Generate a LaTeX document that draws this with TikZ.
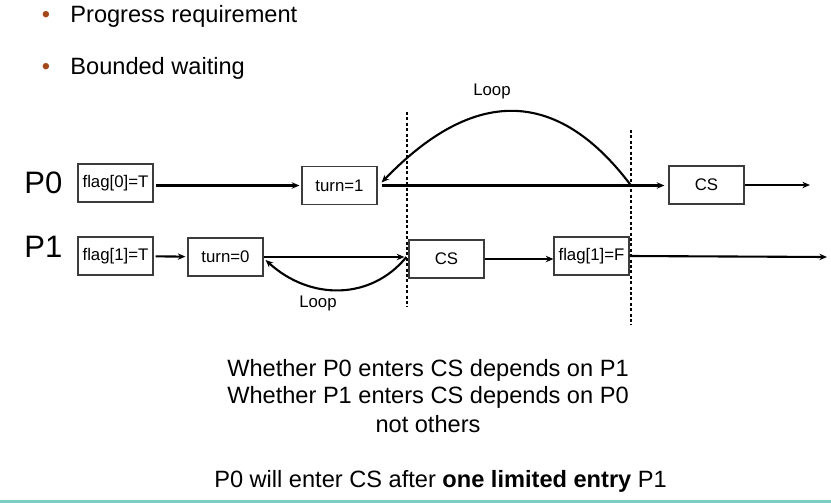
\documentclass[tikz,border=0pt]{standalone}
\usepackage{fontspec}
\setmainfont{Liberation Sans}
\usetikzlibrary{arrows.meta}
\definecolor{bulletbrown}{RGB}{165,72,25}
\definecolor{slideteal}{RGB}{125,204,194}
\definecolor{boxgray}{RGB}{60,60,60}
\tikzset{
  blk/.style={draw=boxgray, line width=0.6pt, minimum width=37.5pt, minimum height=19pt, inner sep=0pt, font=\fontsize{8.4}{10}\selectfont},
  arr/.style={line width=1.05pt, -{Stealth[length=3.8pt,width=3.2pt]}},
  bar/.style={line width=0.8pt, dash pattern=on 1.5pt off 1.2pt},
  big/.style={inner sep=0pt, font=\fontsize{11.8}{14}\selectfont},
  proc/.style={inner sep=0pt, anchor=base west, font=\fontsize{15.5}{18}\selectfont},
  lbl/.style={inner sep=0pt, font=\fontsize{8.4}{10}\selectfont},
}
\begin{document}
\begin{tikzpicture}[x=0.5pt,y=-0.5pt]
    \useasboundingbox (0,0) rectangle (831,503);
    % bullets
    \node[big, anchor=base, text=bulletbrown] (b1) at (46,23) {•};
    \node[big, anchor=base west] (prog) at (70,23) {Progress requirement};
    \node[big, anchor=base, text=bulletbrown] (b2) at (46,75) {•};
    \node[big, anchor=base west] (bwait) at (70,75) {Bounded waiting};
    % processes
    \node[proc] (p0) at (24,193) {P0};
    \node[proc] (p1) at (24,257) {P1};
    \node[blk] (f0) at (115.5,183) {flag[0]=T};
    \node[blk] (t1) at (339.5,185.5) {turn=1};
    \node[blk] (cs0) at (706.5,185) {CS};
    \node[blk] (f1) at (115.5,256) {flag[1]=T};
    \node[blk] (t0) at (225.5,257) {turn=0};
    \node[blk] (cs1) at (446.5,259) {CS};
    \node[blk] (f1f) at (591.5,256) {flag[1]=F};
    % dotted bars
    \coordinate (dltop) at (407,112);
    \coordinate (dlbot) at (407,307);
    \coordinate (drtop) at (631,130);
    \coordinate (drbot) at (631,325);
    \draw[bar] (dltop) -- (dlbot);
    \draw[bar] (drtop) -- (drbot);
    % P0
    \draw[arr, shorten <=1pt, shorten >=1pt] (f0.east |- t1) -- (t1.west);
    \draw[arr, shorten <=2pt, shorten >=2pt] (t1.east) -- (t1.east -| cs0.west);
    \coordinate (turnback) at (drtop |- t1);
    \draw[arr] (turnback) .. controls +(-74,-98.5) and +(92,-95.5) .. ([shift={(4,-3)}]t1.east);
    \node[lbl] (looptop) at (492,91) {Loop};
    \coordinate (p0end) at (810,185);
    \draw[arr] (cs0.east) -- (p0end);
    % P1
    \draw[arr, shorten <=1pt, shorten >=1pt] (f1) -- (t0);
    \draw[arr, shorten >=2pt] (t0.east) -- (t0.east -| cs1.west);
    \draw[arr] ([shift={(-2,0)}]t0.east -| cs1.west) .. controls +(-35,43) and +(45,41) .. ([shift={(2,3)}]t0.east);
    \node[lbl] (loopbot) at (318,303) {Loop};
    \draw[arr] (cs1.east) -- (cs1.east -| f1f.west);
    \coordinate (p1end) at (827,257);
    \draw[arr] (f1f.east) -- (p1end);
    % notes
    \node[big, anchor=base] (dep0) at (428,376) {Whether P0 enters CS depends on P1};
    \node[big, anchor=base] (dep1) at (428,403) {Whether P1 enters CS depends on P0};
    \node[big, anchor=base] (others) at (428,432) {not others};
    \node[big, anchor=base] (bound) at (440.5,487) {P0 will enter CS after \textbf{one limited entry} P1};
    \fill[slideteal] (0,500) rectangle (831,503);
\end{tikzpicture}
\end{document}
